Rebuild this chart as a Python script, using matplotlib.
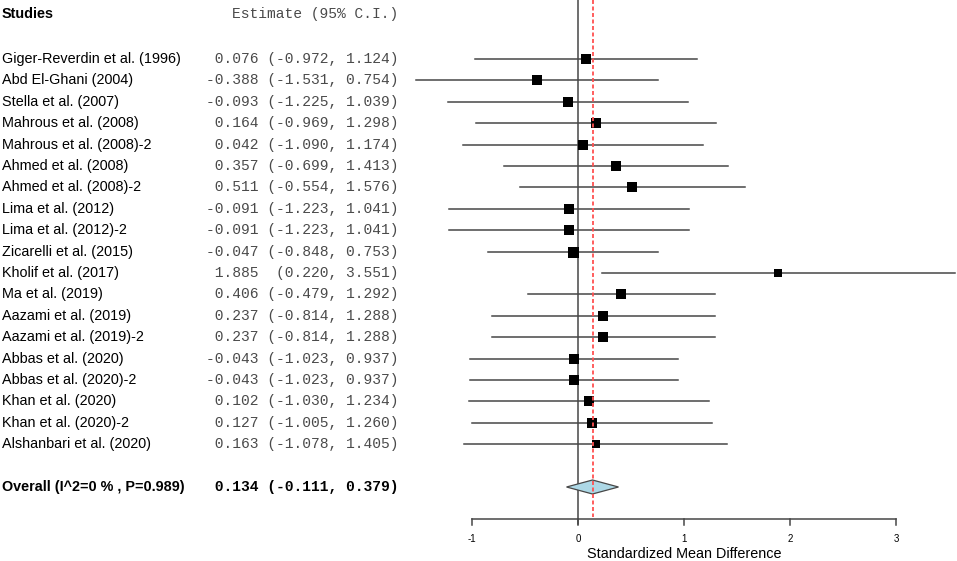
import matplotlib
matplotlib.use("Agg")
import matplotlib.pyplot as plt
from matplotlib.patches import Polygon
import numpy as np

studies = [
    "Giger-Reverdin et al. (1996)", "Abd El-Ghani (2004)", "Stella et al. (2007)",
    "Mahrous et al. (2008)", "Mahrous et al. (2008)-2", "Ahmed et al. (2008)",
    "Ahmed et al. (2008)-2", "Lima et al. (2012)", "Lima et al. (2012)-2",
    "Zicarelli et al. (2015)", "Kholif et al. (2017)", "Ma et al. (2019)",
    "Aazami et al. (2019)", "Aazami et al. (2019)-2", "Abbas et al. (2020)",
    "Abbas et al. (2020)-2", "Khan et al. (2020)", "Khan et al. (2020)-2",
    "Alshanbari et al. (2020)",
]
estimate = [0.076, -0.388, -0.093, 0.164, 0.042, 0.357, 0.511, -0.091, -0.091,
            -0.047, 1.885, 0.406, 0.237, 0.237, -0.043, -0.043, 0.102, 0.127, 0.163]
lower = [-0.972, -1.531, -1.225, -0.969, -1.090, -0.699, -0.554, -1.223, -1.223,
         -0.848, 0.220, -0.479, -0.814, -0.814, -1.023, -1.023, -1.030, -1.005, -1.078]
upper = [1.124, 0.754, 1.039, 1.298, 1.174, 1.413, 1.576, 1.041, 1.041,
         0.753, 3.551, 1.292, 1.288, 1.288, 0.937, 0.937, 1.234, 1.260, 1.405]

overall_label = "Overall (I^2=0 % , P=0.989)"
overall_est, overall_lo, overall_hi = 0.134, -0.111, 0.379
x_ticks = [-1, 0, 1, 2, 3]
x_label = "Standardized Mean Difference"

# ---- layout (pixel based) ----
W, H = 957, 561
X0_PX, UNIT_PX = 578.3, 106.0

def px2x(px):
    return (px - X0_PX) / UNIT_PX

fig = plt.figure(figsize=(W / 100, H / 100), dpi=100)
ax = fig.add_axes([0, 0, 1, 1])
ax.set_xlim(px2x(0), px2x(W))
ax.set_ylim(H, 0)
ax.axis("off")

row0, step = 59.0, 21.4
ys = [row0 + i * step for i in range(len(studies))]
y_overall = 487.0
y_header = 14.0
y_axis = 519.0

sans = ["Liberation Sans", "DejaVu Sans"]
mono = ["Liberation Mono", "DejaVu Sans Mono"]
lc = "#474747"
tc = "#4a4a4a"

def fmt(e, lo, hi):
    return f"{e:6.3f} {('(' + format(lo, '.3f') + ','):>8} {hi:5.3f})"

# zero line and overall estimate line
ax.plot([0, 0], [0, y_axis + 5], color=lc, lw=1.1, zorder=1)
ax.plot([overall_est, overall_est], [0, y_axis - 2], color="#ff5050", lw=1.3,
        ls=(0, (2.2, 1.4)), zorder=5)

# weights for square sizes
widths = np.array(upper) - np.array(lower)
w = 1.0 / widths ** 2
wn = (w - w.min()) / (w.max() - w.min())
side_px = 8.0 + 3.0 * wn

for i, (name, e, lo, hi) in enumerate(zip(studies, estimate, lower, upper)):
    y = ys[i]
    ax.plot([lo, hi], [y, y], color=lc, lw=1.1, zorder=2)
    ax.plot([e], [y], marker="s", ms=side_px[i] * 0.72, color="black",
            mec="black", mew=0, zorder=3)
    ax.text(px2x(2), y, name, family=sans, fontsize=10.4, ha="left", va="center",
            color="black")
    ax.text(px2x(398), y, fmt(e, lo, hi), family=mono, fontsize=10.5,
            ha="right", va="center", color=tc)

# overall diamond
dh = 7.0
diamond = Polygon([[overall_lo, y_overall], [overall_est, y_overall - dh],
                   [overall_hi, y_overall], [overall_est, y_overall + dh]],
                  closed=True, facecolor="#add8e6", edgecolor=lc, lw=0.9, zorder=3)
ax.add_patch(diamond)
ax.text(px2x(2), y_overall, overall_label, family=sans, fontsize=10.4,
        fontweight="bold", ha="left", va="center", color="black")
ax.text(px2x(398), y_overall, fmt(overall_est, overall_lo, overall_hi), family=mono,
        fontsize=10.5, fontweight="bold", ha="right", va="center", color="black")

# header
ax.text(px2x(2), y_header, "Studies", family=sans, fontsize=10.4, fontweight="bold",
        ha="left", va="center", color="black")
ax.text(px2x(398), y_header, "Estimate (95% C.I.)", family=mono, fontsize=10.5,
        ha="right", va="center", color=tc)

# x axis
ax.plot([x_ticks[0], x_ticks[-1]], [y_axis, y_axis], color=lc, lw=1.1)
for t in x_ticks:
    ax.plot([t, t], [y_axis, y_axis + 6], color=lc, lw=1.1)
    ax.text(t, y_axis + 20, f"{t:g}", family=sans, fontsize=7, ha="center",
            va="center", color="black")
ax.text((x_ticks[0] + x_ticks[-1]) / 2, y_axis + 35, x_label, family=sans,
        fontsize=10.4, ha="center", va="center", color="black")

fig.savefig("out.png", dpi=100, facecolor="white")
